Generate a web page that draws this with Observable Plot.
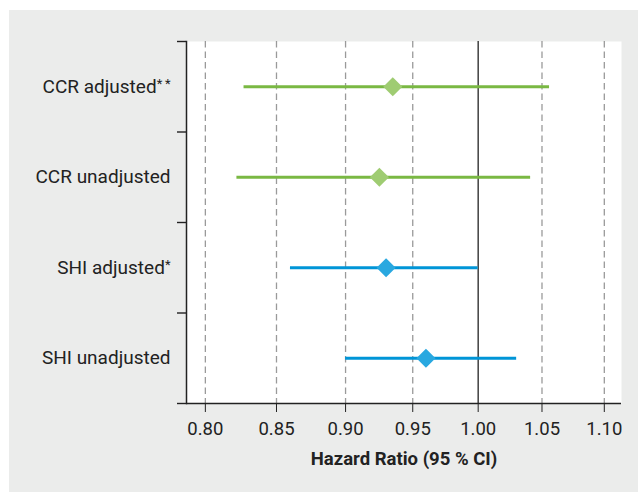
<!DOCTYPE html>
<html>
<head>
<meta charset="utf-8">
<script src="https://cdn.jsdelivr.net/npm/d3@7"></script>
<script src="https://cdn.jsdelivr.net/npm/@observablehq/plot@0.6"></script>
<style>
  html, body { margin: 0; padding: 0; background: #ffffff; }
  #wrap { position: relative; width: 638px; height: 492px; background: #ffffff; overflow: hidden; }
  #panel { position: absolute; left: 9px; top: 10px; width: 629px; height: 482px; background: #ebeceb; }
  #panel svg { display: block; }
</style>
</head>
<body>
<div id="wrap"><div id="panel"></div></div>
<script>
// ---- data ----
const categories = ["CCR adjusted**", "CCR unadjusted", "SHI adjusted*", "SHI unadjusted"];
const groups = ["CCR", "CCR", "SHI", "SHI"];
const hazardRatio = [0.935, 0.925, 0.930, 0.960];
const ciLower = [0.827, 0.822, 0.860, 0.900];
const ciUpper = [1.056, 1.041, 1.000, 1.030];
const xTicks = [0.80, 0.85, 0.90, 0.95, 1.00, 1.05, 1.10];
const xTitle = "Hazard Ratio (95 % CI)";

const lineColors = {CCR: "#7ab843", SHI: "#0095d7"};
const dotColors = {CCR: "#9fcc72", SHI: "#29a8e0"};

const n = categories.length;
const rows = categories.map((c, i) => ({
  category: c,
  group: groups[i],
  pos: n - i - 0.5,
  hr: hazardRatio[i],
  lo: ciLower[i],
  hi: ciUpper[i]
}));
const rowCenters = rows.map(r => r.pos);
const boundaries = d3.range(0, n + 1);

const chart = Plot.plot({
  width: 629,
  height: 482,
  marginLeft: 177,
  marginRight: 17,
  marginTop: 31,
  marginBottom: 89,
  style: {background: "transparent", fontFamily: "Roboto, 'Liberation Sans', sans-serif", fontSize: "18px", color: "#222"},
  x: {type: "sqrt", domain: [0.787, 1.114]},
  y: {domain: [0, n]},
  marks: [
    Plot.frame({fill: "white", stroke: "none"}),
    Plot.ruleX(xTicks.filter(d => d !== 1), {stroke: "#9a9a9a", strokeWidth: 1.3, strokeDasharray: "6.5,4"}),
    Plot.ruleX([1], {stroke: "#333", strokeWidth: 1.4}),
    Plot.ruleY(rows, {y: "pos", x1: "lo", x2: "hi", stroke: d => lineColors[d.group], strokeWidth: 3}),
    Plot.dot(rows, {x: "hr", y: "pos", symbol: "diamond2", r: 8.6, fill: d => dotColors[d.group], stroke: "none"}),
    Plot.frame({anchor: "left", stroke: "#222", strokeWidth: 1.5}),
    Plot.ruleY([0], {stroke: "#222", strokeWidth: 1.4}),
    Plot.axisY({ticks: boundaries, tickFormat: () => "", tickSize: 9, stroke: "#222", strokeWidth: 1.4, label: null}),
    Plot.axisY({ticks: rowCenters, tickFormat: v => categories[n - 0.5 - v], tickSize: 0, tickPadding: 16, fill: "#222", fontSize: 19, label: null}),
    Plot.axisX({ticks: xTicks, tickFormat: d3.format(".2f"), tickSize: 9, tickPadding: 9, stroke: "#222", fill: "#222", fontSize: 18.5, label: null}),
    Plot.text([xTitle], {text: d => d, frameAnchor: "bottom", dy: 61, fontWeight: "bold", fontSize: 18.5, fill: "#222"})
  ]
});

document.getElementById("panel").appendChild(chart);

// superscript asterisks in the category labels
d3.select(chart).selectAll("text").each(function () {
  const t = this.textContent;
  const m = t.match(/^(.*?)(\*+)$/);
  if (m && this.querySelectorAll("tspan").length <= 1) {
    const sel = d3.select(this);
    const stars = m[2].split("").join("\u2009");
    const base = this.querySelector("tspan");
    const target = base ? d3.select(base) : sel;
    target.text(m[1]);
    target.append("tspan").attr("font-size", 13).attr("baseline-shift", "38%").text(stars);
  }
});
</script>
</body>
</html>
